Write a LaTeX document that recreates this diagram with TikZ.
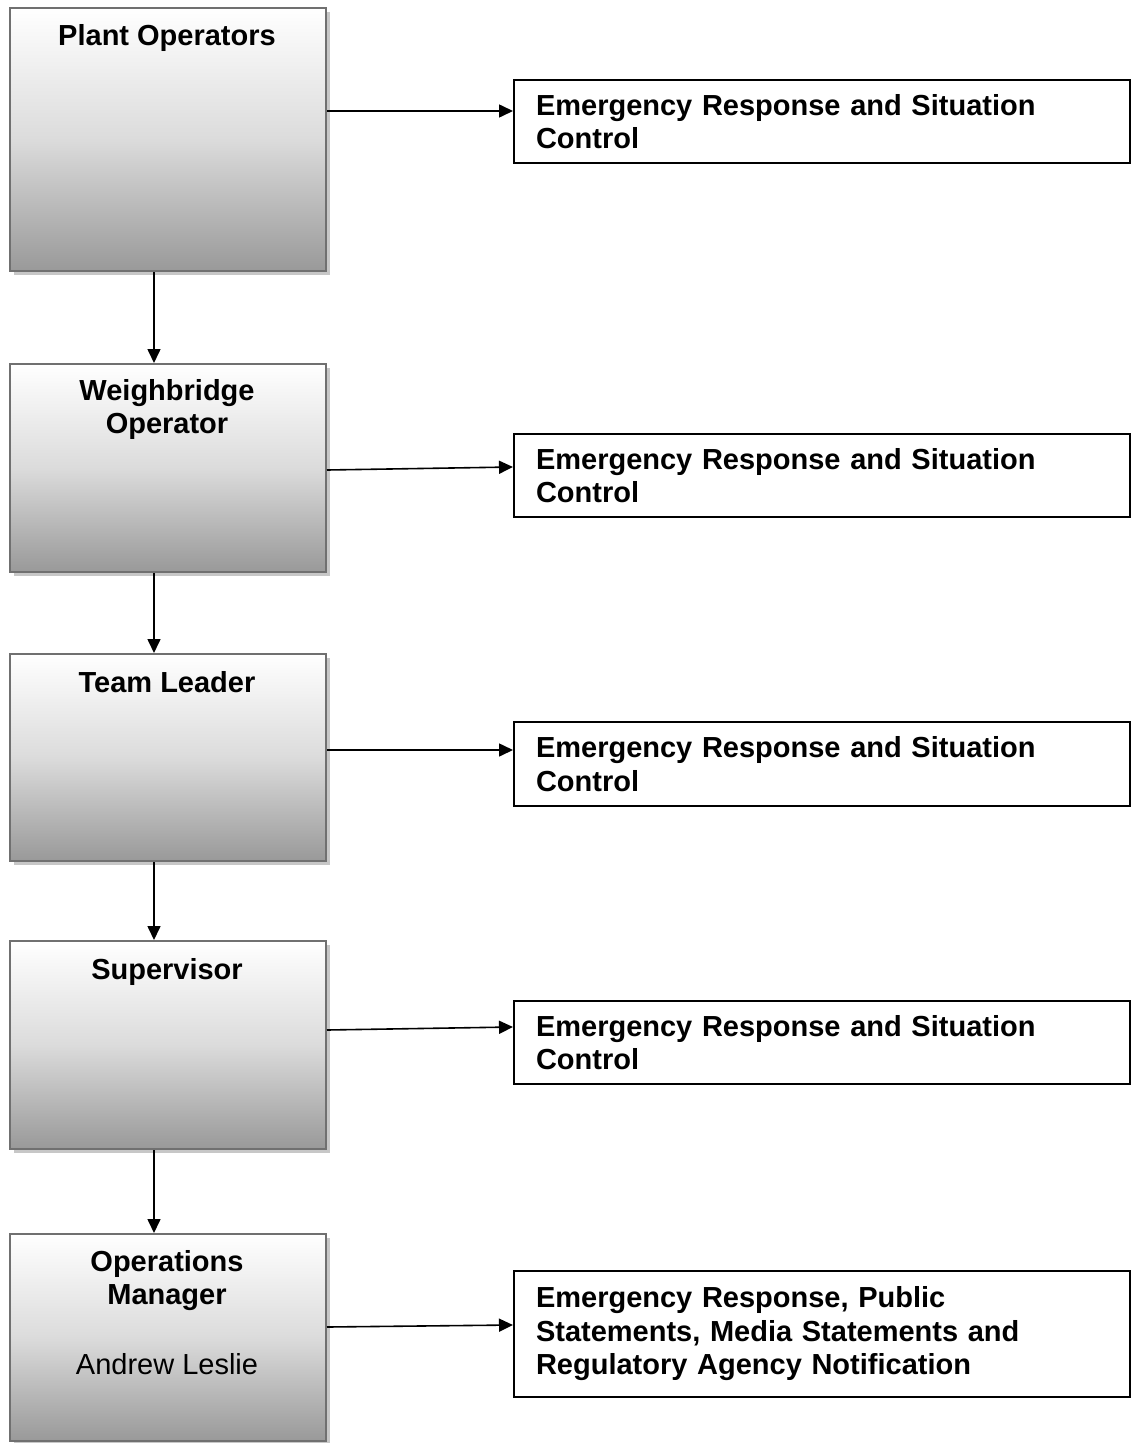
\documentclass[tikz,border=0pt]{standalone}
\usepackage{fontspec}
\setmainfont{Liberation Sans}
\usetikzlibrary{arrows.meta,shadows,calc}
\begin{document}
\begin{tikzpicture}[x=1pt,y=-1pt,
  rolebox/.style={draw=black!56,line width=2pt,rectangle,inner sep=0pt,
    minimum width=316pt,anchor=north west,
    top color=white,bottom color=black!40,middle color=black!14,
    drop shadow={shadow xshift=4pt,shadow yshift=-4pt,fill=black!22,opacity=1}},
  roletext/.style={anchor=north,align=center,inner sep=0pt,font=\fontsize{29}{33.5}\selectfont\bfseries},
  taskbox/.style={draw=black,line width=2pt,rectangle,fill=white,
    minimum width=616pt,text width=572pt,inner xsep=22pt,align=left,
    anchor=north west,font=\fontsize{29}{33.5}\selectfont\bfseries},
  arr/.style={line width=1.6pt,-{Triangle[length=14pt,width=13pt]}}]
\path[use as bounding box] (0,0) rectangle (1131,1443);
% left role boxes
\node[rolebox,minimum height=263pt] (l1) at (9,7) {};
\node[rolebox,minimum height=208pt] (l2) at (9,363) {};
\node[rolebox,minimum height=207pt] (l3) at (9,653) {};
\node[rolebox,minimum height=208pt] (l4) at (9,940) {};
\node[rolebox,minimum height=207pt] (l5) at (9,1233) {};
% role texts
\node[roletext] (t1) at (167,24) {Plant Operators};
\node[roletext] (t2) at (167,379) {Weighbridge\\Operator};
\node[roletext] (t3) at (167,671) {Team Leader};
\node[roletext] (t4) at (167,958) {Supervisor};
\node[roletext] (t5) at (167,1250) {Operations\\Manager};
\node[anchor=center,inner sep=0pt,font=\fontsize{29}{33.5}\selectfont] (t5b) at (167,1364) {Andrew Leslie};
% right task boxes
\node[taskbox,minimum height=83pt] (r1) at (513,79) {Emergency Response and Situation\\Control};
\node[taskbox,minimum height=83pt] (r2) at (513,433) {Emergency Response and Situation\\Control};
\node[taskbox,minimum height=84pt] (r3) at (513,721) {Emergency Response and Situation\\Control};
\node[taskbox,minimum height=83pt] (r4) at (513,1000) {Emergency Response and Situation\\Control};
\node[taskbox,minimum height=126pt] (r5) at (513,1270) {Emergency Response, Public\\Statements, Media Statements and\\Regulatory Agency Notification};
% horizontal arrows
\draw[arr] (l1.east |- 0,111) -- (r1.west |- 0,111);
\draw[arr] (l2.east |- 0,470) -- (r2.west |- 0,467);
\draw[arr] (l3.east |- 0,750) -- (r3.west |- 0,750);
\draw[arr] (l4.east |- 0,1030) -- (r4.west |- 0,1027);
\draw[arr] (l5.east |- 0,1327) -- (r5.west |- 0,1325);
% vertical arrows
\draw[arr] (l1.south -| 154,0) -- (l2.north -| 154,0);
\draw[arr] (l2.south -| 154,0) -- (l3.north -| 154,0);
\draw[arr] (l3.south -| 154,0) -- (l4.north -| 154,0);
\draw[arr] (l4.south -| 154,0) -- (l5.north -| 154,0);
\end{tikzpicture}
\end{document}
